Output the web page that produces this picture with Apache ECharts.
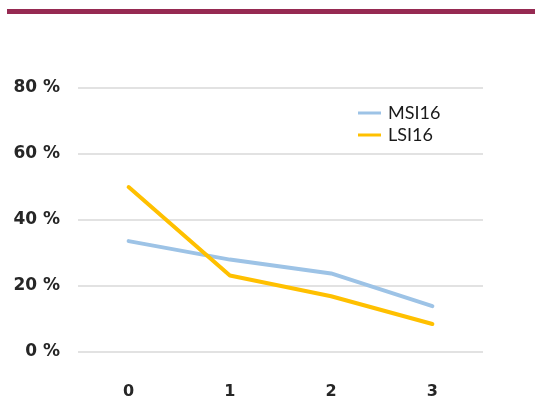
<!DOCTYPE html>
<html><head><meta charset="utf-8">
<script src="https://cdn.jsdelivr.net/npm/echarts@6/dist/echarts.min.js"></script>
<style>html,body{margin:0;padding:0;background:#fff}#c{width:535px;height:400px}</style>
</head><body><div id="c"></div>
<script>
var categories = ['0','1','2','3'];
var msi16 = [33.6, 28.0, 23.8, 13.9];
var lsi16 = [50.0, 23.2, 16.9, 8.5];
var yTicks = [0, 20, 40, 60, 80];

var chart = echarts.init(document.getElementById('c'));
chart.setOption({
  animation: false,
  graphic: [{type:'rect', shape:{x:7, y:9, width:528, height:5}, style:{fill:'#962A52'}}],
  grid: {left:78, right:52, top:88, bottom:47},
  legend: {
    orient:'vertical', left:353, top:99, itemWidth:23, itemHeight:3, itemGap:4,
    icon:'rect',
    textStyle:{fontFamily:'Lato', fontSize:18, color:'#1a1a1a', padding:[0,0,0,2]},
    data:['MSI16','LSI16']
  },
  xAxis: {
    type:'category', data:categories, boundaryGap:true,
    axisLine:{show:false}, axisTick:{show:false},
    axisLabel:{fontFamily:'DejaVu Sans', fontWeight:'bold', fontSize:16, color:'#262626', margin:32}
  },
  yAxis: {
    type:'value', min:yTicks[0], max:yTicks[yTicks.length-1], interval:20,
    axisLine:{show:false}, axisTick:{show:false},
    splitLine:{lineStyle:{color:'#d9d9d9', width:1.5}},
    axisLabel:{fontFamily:'DejaVu Sans', fontWeight:'bold', fontSize:17, color:'#262626', margin:18, formatter:function(v){return v+' %';}}
  },
  series: [
    {name:'MSI16', type:'line', data:msi16, symbol:'none', lineStyle:{width:4, color:'#9DC3E6', cap:'round'}, itemStyle:{color:'#9DC3E6'}},
    {name:'LSI16', type:'line', data:lsi16, symbol:'none', lineStyle:{width:4, color:'#FFC000', cap:'round'}, itemStyle:{color:'#FFC000'}}
  ]
});
</script></body></html>
